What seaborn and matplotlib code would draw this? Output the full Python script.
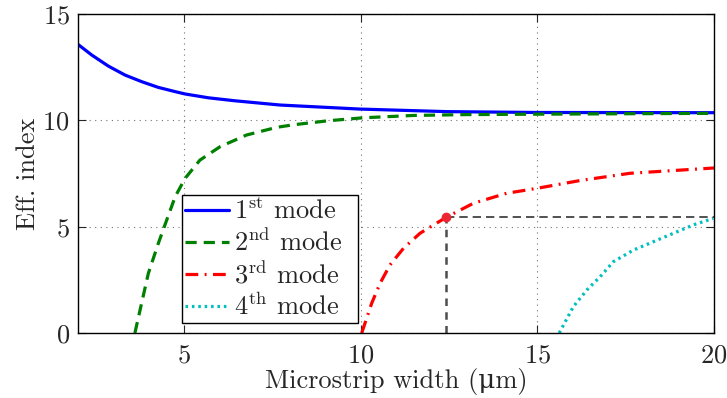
import numpy as np
import pandas as pd
import seaborn as sns
import matplotlib.pyplot as plt

# mode curves
mode1_x = [2.0, 2.39, 2.86, 3.33, 3.8, 4.27, 4.75, 5.03, 5.69, 6.44, 7.72, 9.98, 12.43, 14.98, 20]
mode1_y = [13.57, 13.07, 12.55, 12.13, 11.82, 11.55, 11.35, 11.24, 11.06, 10.92, 10.72, 10.53, 10.41, 10.37, 10.36]

mode2_x = [3.61, 3.99, 4.27, 4.51, 4.75, 5.03, 5.45, 6.02, 6.77, 7.62, 8.09, 9.08, 10.07, 11.49, 13.0, 15, 20]
mode2_y = [0, 2.8, 4.2, 5.31, 6.41, 7.27, 8.13, 8.76, 9.31, 9.67, 9.79, 9.98, 10.12, 10.23, 10.27, 10.29, 10.33]

mode3_x = [10.03, 10.31, 10.55, 10.83, 11.21, 11.68, 12.42, 13.19, 14.13, 14.98, 16.21, 17.62, 20]
mode3_y = [0, 1.39, 2.34, 3.2, 3.98, 4.69, 5.44, 6.1, 6.57, 6.8, 7.17, 7.51, 7.76]

mode4_x = [15.62, 16.02, 16.4, 16.78, 17.15, 17.72, 18.28, 18.94, 19.41, 19.98]
mode4_y = [0, 1.24, 2.02, 2.65, 3.35, 3.9, 4.29, 4.75, 5.08, 5.39]

labels = [r"1$^{\mathrm{st}}$ mode", r"2$^{\mathrm{nd}}$ mode",
          r"3$^{\mathrm{rd}}$ mode", r"4$^{\mathrm{th}}$ mode"]

# operating point on the 3rd mode
op_x, op_y = 12.42, 5.44

sns.set_style("white")
plt.rcParams['font.family'] = ['cmr10', 'DejaVu Serif']
plt.rcParams['mathtext.fontset'] = 'cm'
plt.rcParams['axes.formatter.use_mathtext'] = True
plt.rcParams['font.size'] = 19

fig = plt.figure(figsize=(7.27, 3.98), dpi=100)
ax = fig.add_axes([0.1073, 0.1633, 0.8748, 0.8015])

sns.lineplot(x=mode1_x, y=mode1_y, ax=ax, color=(0, 0, 1), lw=2.3, label=labels[0])
sns.lineplot(x=mode2_x, y=mode2_y, ax=ax, color=(0, 0.5, 0), lw=2.3, linestyle=(0, (3.5, 2.2)), label=labels[1])
sns.lineplot(x=mode3_x, y=mode3_y, ax=ax, color=(1, 0, 0), lw=2.3, linestyle=(0, (4, 2, 0.6, 2)), label=labels[2])
sns.lineplot(x=mode4_x, y=mode4_y, ax=ax, color=(0, 0.75, 0.75), lw=2.3, linestyle=(0, (0.8, 1.2)), label=labels[3])

ax.plot([op_x, 20], [op_y, op_y], color='0.2', lw=1.2, linestyle=(0, (5, 3)))
ax.plot([op_x, op_x], [0, op_y], color='0.3', lw=1.8, linestyle=(0, (3, 2.5)))
ax.plot(op_x, op_y, 'o', color=(0.93, 0.15, 0.2), ms=6)

ax.set_xlim(2, 20)
ax.set_ylim(0, 15)
ax.set_xticks([5, 10, 15, 20])
ax.set_yticks([0, 5, 10, 15])
ax.grid(True, color='0.45', linestyle=(0, (1, 4)), lw=0.8)
ax.tick_params(direction='in', length=6, width=0.8, top=True, right=True,
               bottom=True, left=True, labelsize=19)
ax.tick_params(axis='y', pad=6)
ax.tick_params(axis='x', pad=8)
for s in ax.spines.values():
    s.set_linewidth(1.0)
    s.set_color('black')

ax.set_xlabel("Microstrip width (\u03bcm)", fontsize=19, labelpad=0)
ax.set_ylabel("Eff. index", fontsize=19, labelpad=2)

leg = ax.legend(loc='lower left', bbox_to_anchor=(0.1635, 0.031, 0.2767, 0.4),
                mode='expand', fontsize=19,
                frameon=True, fancybox=False, edgecolor='black', framealpha=1,
                handlelength=1.65, handletextpad=0.2, borderpad=0.12, labelspacing=0.17,
                borderaxespad=0)
leg.get_frame().set_linewidth(1.0)

fig.savefig("out.png", dpi=100)
